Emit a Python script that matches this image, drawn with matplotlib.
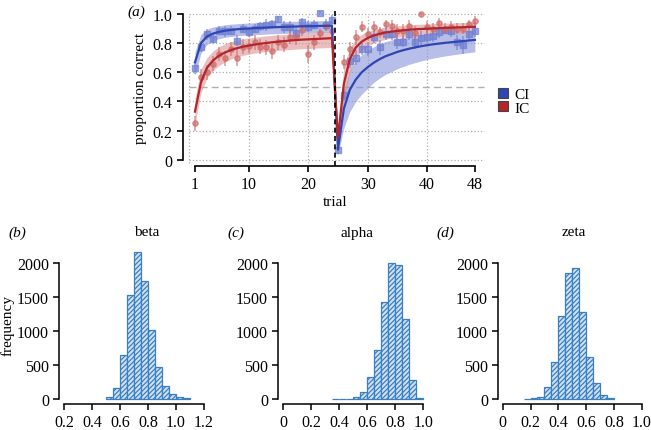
import numpy as np
import matplotlib
matplotlib.use("Agg")
import matplotlib.pyplot as plt
from matplotlib.lines import Line2D

plt.rcParams["font.family"] = ["Liberation Serif", "DejaVu Serif"]
plt.rcParams["hatch.linewidth"] = 0.9

# ---- panel (a): learning curves ----
trials = np.arange(1, 49)

ci_fit = [0.668, 0.80, 0.845, 0.865, 0.877, 0.885, 0.89, 0.895, 0.898, 0.90, 0.903, 0.905,
          0.907, 0.909, 0.91, 0.912, 0.913, 0.914, 0.915, 0.916, 0.917, 0.918, 0.919, 0.92,
          0.07, 0.35, 0.48, 0.55, 0.60, 0.635, 0.665, 0.69, 0.71, 0.725, 0.74, 0.752,
          0.762, 0.771, 0.779, 0.786, 0.792, 0.797, 0.802, 0.806, 0.81, 0.814, 0.818, 0.822]
ci_lo = [0.58, 0.73, 0.79, 0.815, 0.83, 0.84, 0.845, 0.85, 0.853, 0.856, 0.858, 0.86,
         0.862, 0.864, 0.865, 0.866, 0.867, 0.868, 0.869, 0.87, 0.871, 0.872, 0.873, 0.874,
         0.03, 0.22, 0.33, 0.40, 0.45, 0.49, 0.53, 0.56, 0.585, 0.605, 0.625, 0.64,
         0.655, 0.667, 0.678, 0.688, 0.697, 0.705, 0.712, 0.718, 0.724, 0.73, 0.735, 0.74]
ci_hi = [0.74, 0.86, 0.895, 0.91, 0.918, 0.925, 0.93, 0.933, 0.936, 0.938, 0.94, 0.942,
         0.944, 0.945, 0.947, 0.948, 0.949, 0.95, 0.951, 0.952, 0.953, 0.954, 0.955, 0.956,
         0.12, 0.48, 0.62, 0.68, 0.72, 0.75, 0.775, 0.795, 0.81, 0.822, 0.832, 0.84,
         0.847, 0.853, 0.858, 0.862, 0.866, 0.87, 0.874, 0.877, 0.88, 0.883, 0.886, 0.889]
ci_obs = [0.63, 0.77, 0.86, 0.83, 0.885, 0.88, 0.885, 0.817, 0.90, 0.874, 0.90, 0.915,
          0.926, 0.93, 0.966, 0.91, 0.91, 0.867, 0.943, 0.913, 0.926, 1.01, 0.926, 0.96,
          0.07, 0.446, 0.68, 0.70, 0.76, 0.76, 0.84, 0.77, 0.863, 0.863, 0.81, 0.81,
          0.86, 0.81, 0.833, 0.84, 0.85, 0.874, 0.89, 0.885, 0.806, 0.787, 0.863, 0.885]
ci_err = [0.04, 0.03, 0.04, 0.03, 0.03, 0.04, 0.03, 0.04, 0.03, 0.03, 0.03, 0.03,
          0.04, 0.03, 0.02, 0.04, 0.04, 0.04, 0.03, 0.04, 0.03, 0.01, 0.04, 0.03,
          0.03, 0.04, 0.05, 0.05, 0.04, 0.05, 0.04, 0.05, 0.04, 0.04, 0.05, 0.04,
          0.04, 0.05, 0.05, 0.04, 0.04, 0.04, 0.03, 0.04, 0.05, 0.06, 0.04, 0.04]

ic_fit = [0.33, 0.53, 0.63, 0.68, 0.713, 0.735, 0.752, 0.765, 0.775, 0.783, 0.79, 0.796,
          0.801, 0.806, 0.81, 0.814, 0.818, 0.821, 0.824, 0.826, 0.828, 0.83, 0.832, 0.834,
          0.15, 0.52, 0.69, 0.77, 0.81, 0.835, 0.852, 0.864, 0.873, 0.879, 0.884, 0.888,
          0.892, 0.895, 0.897, 0.899, 0.901, 0.903, 0.905, 0.906, 0.908, 0.909, 0.911, 0.912]
ic_lo = [0.24, 0.46, 0.56, 0.61, 0.645, 0.67, 0.69, 0.705, 0.715, 0.724, 0.731, 0.737,
         0.742, 0.746, 0.75, 0.753, 0.756, 0.759, 0.761, 0.763, 0.765, 0.767, 0.769, 0.771,
         0.10, 0.40, 0.60, 0.70, 0.75, 0.78, 0.80, 0.815, 0.826, 0.834, 0.84, 0.845,
         0.849, 0.853, 0.856, 0.859, 0.861, 0.863, 0.865, 0.867, 0.868, 0.87, 0.871, 0.872]
ic_hi = [0.42, 0.62, 0.70, 0.745, 0.775, 0.795, 0.81, 0.82, 0.828, 0.835, 0.84, 0.845,
         0.85, 0.854, 0.857, 0.86, 0.863, 0.866, 0.868, 0.87, 0.872, 0.874, 0.876, 0.878,
         0.21, 0.64, 0.77, 0.83, 0.86, 0.88, 0.893, 0.903, 0.91, 0.915, 0.919, 0.922,
         0.925, 0.928, 0.93, 0.932, 0.934, 0.936, 0.937, 0.938, 0.94, 0.941, 0.942, 0.943]
ic_obs = [0.25, 0.57, 0.60, 0.66, 0.725, 0.696, 0.76, 0.70, 0.776, 0.78, 0.806, 0.776,
          0.77, 0.744, 0.806, 0.79, 0.844, 0.84, 0.89, 0.725, 0.806, 0.867, 0.92, 0.885,
          0.20, 0.67, 0.76, 0.84, 0.913, 0.864, 0.913, 0.874, 0.93, 0.92, 0.88, 0.88,
          0.92, 0.87, 1.0, 0.91, 0.90, 0.94, 0.90, 0.91, 0.90, 0.90, 0.93, 0.954]
ic_err = [0.05, 0.05, 0.05, 0.05, 0.05, 0.05, 0.05, 0.06, 0.05, 0.05, 0.05, 0.05,
          0.05, 0.05, 0.05, 0.05, 0.05, 0.05, 0.04, 0.06, 0.05, 0.04, 0.03, 0.04,
          0.04, 0.05, 0.05, 0.05, 0.04, 0.04, 0.04, 0.04, 0.03, 0.04, 0.05, 0.05,
          0.04, 0.05, 0.01, 0.04, 0.04, 0.03, 0.04, 0.04, 0.04, 0.04, 0.03, 0.03]

a_xticks = [1, 10, 20, 30, 40, 48]
a_yticks = [0, 0.2, 0.4, 0.6, 0.8, 1.0]
a_yticklabels = ["0", "0.2", "0.4", "0.6", "0.8", "1.0"]

# ---- panels (b)-(d): posterior histograms ----
beta_edges = np.arange(0.50, 1.101, 0.05)
beta_counts = [25, 157, 649, 1533, 2162, 1744, 1017, 477, 197, 74, 25, 10]
alpha_edges = np.arange(0.35, 1.001, 0.05)
alpha_counts = [5, 5, 5, 25, 98, 319, 727, 1425, 2000, 1970, 1179, 285, 10]
zeta_edges = np.arange(0.15, 0.801, 0.05)
zeta_counts = [5, 15, 34, 172, 541, 1229, 1857, 1936, 1287, 624, 231, 64, 20]

W, H = 651, 431
fig = plt.figure(figsize=(W / 100, H / 100), dpi=100)


def rect(left, top, right, bottom):
    return [left / W, 1 - bottom / H, (right - left) / W, (bottom - top) / H]


blue_line, blue_pt, blue_band = "#2e45b2", "#6f7fd2", "#8793da"
red_line, red_pt, red_band = "#b3252c", "#d06c6c", "#dc9494"
TICK = 11.5
LAB = 11

ax = fig.add_axes(rect(182.7, 10.6, 488, 166.7))
ax.set_xlim(-1.06, 50.2)
ax.set_ylim(-0.041, 1.03)

# grid
ax.hlines(a_yticks, 0, 49.5, colors="#b0b0b0", linestyles=":", lw=0.9, zorder=0)
ax.vlines([0, 10, 20, 30, 40], -0.02, 1.0, colors="#b0b0b0", linestyles=":", lw=0.9, zorder=0)
ax.hlines(0.5, 0, 49.5, colors="#b0b0b0", linestyles=(0, (5, 3)), lw=1.0, zorder=0)

ax.fill_between(trials, ci_lo, ci_hi, color=blue_band, alpha=0.6, lw=0, zorder=1)
ax.fill_between(trials, ic_lo, ic_hi, color=red_band, alpha=0.6, lw=0, zorder=1)
ax.errorbar(trials, ci_obs, yerr=ci_err, fmt="s", ms=3.8, color=blue_pt, alpha=0.7,
            elinewidth=1.1, capsize=0, zorder=2)
ax.errorbar(trials, ic_obs, yerr=ic_err, fmt="o", ms=3.8, color=red_pt, alpha=0.7,
            elinewidth=1.1, capsize=0, zorder=2)
ax.plot(trials, ci_fit, color=blue_line, lw=1.6, zorder=3)
ax.plot(trials, ic_fit, color=red_line, lw=1.6, zorder=3)
ax.axvline(24.5, color="black", ls=(0, (3, 2)), lw=1.2, zorder=4)

for s in ["top", "right"]:
    ax.spines[s].set_visible(False)
ax.spines["left"].set_bounds(0, 1)
ax.spines["bottom"].set_bounds(1, 48)
for s in ["left", "bottom"]:
    ax.spines[s].set_linewidth(1.2)
ax.set_xticks(a_xticks)
ax.set_yticks(a_yticks)
ax.set_yticklabels(a_yticklabels)
ax.tick_params(labelsize=TICK, width=1.2, length=4)
ax.set_ylabel("proportion correct", fontsize=LAB, labelpad=4)
ax.set_xlabel("trial", fontsize=LAB, labelpad=2)

handles = [Line2D([], [], ls="", marker="s", ms=6.5, mfc=blue_line, mec="#444444", mew=0.8),
           Line2D([], [], ls="", marker="s", ms=6.5, mfc=red_line, mec="#444444", mew=0.8)]
fig.legend(handles, ["CI", "IC"], loc="center left", bbox_to_anchor=(491 / W, 1 - 102 / H),
           frameon=False, fontsize=11, handlelength=0.6, handletextpad=0.4,
           labelspacing=0.0, borderpad=0)
fig.text(127 / W, 1 - 12 / H, "(a)", fontsize=LAB, style="italic", va="center")

hist_panels = [
    ("(b)", "beta", beta_edges, beta_counts, (59.3, 210), (0.164, 1.243),
     [0.2, 0.4, 0.6, 0.8, 1.0, 1.2], ["0.2", "0.4", "0.6", "0.8", "1.0", "1.2"], 8, 147),
    ("(c)", "alpha", alpha_edges, alpha_counts, (278.3, 430), (-0.0357, 1.048),
     [0, 0.2, 0.4, 0.6, 0.8, 1.0], ["0", "0.2", "0.4", "0.6", "0.8", "1.0"], 227, 357),
    ("(d)", "zeta", zeta_edges, zeta_counts, (498.3, 648), (-0.0317, 1.045),
     [0, 0.2, 0.4, 0.6, 0.8, 1.0], ["0", "0.2", "0.4", "0.6", "0.8", "1.0"], 436, 574),
]

for lab, title, edges, counts, (l, r), xl, xt, xtl, labx, titx in hist_panels:
    hax = fig.add_axes(rect(l, 247, r, 405))
    hax.bar(edges[:-1], counts, width=0.05, align="edge", facecolor="#cfe1f3",
            edgecolor="#3a7fc2", hatch="///////", linewidth=0.9)
    hax.set_xlim(*xl)
    hax.set_ylim(-73.7, 2255)
    for s in ["top", "right"]:
        hax.spines[s].set_visible(False)
    hax.spines["left"].set_bounds(0, 2000)
    hax.spines["bottom"].set_bounds(xt[0], xt[-1])
    for s in ["left", "bottom"]:
        hax.spines[s].set_linewidth(1.1)
    hax.set_xticks(xt)
    hax.set_xticklabels(xtl)
    hax.set_yticks([0, 500, 1000, 1500, 2000])
    hax.tick_params(labelsize=TICK, width=1.1, length=4)
    fig.text(labx / W, 1 - 233 / H, lab, fontsize=LAB, style="italic", va="center")
    fig.text(titx / W, 1 - 233 / H, title, fontsize=LAB, ha="center", va="center")
    if lab == "(b)":
        hax.set_ylabel("frequency", fontsize=LAB, labelpad=2)

fig.savefig("out.png", dpi=100)
